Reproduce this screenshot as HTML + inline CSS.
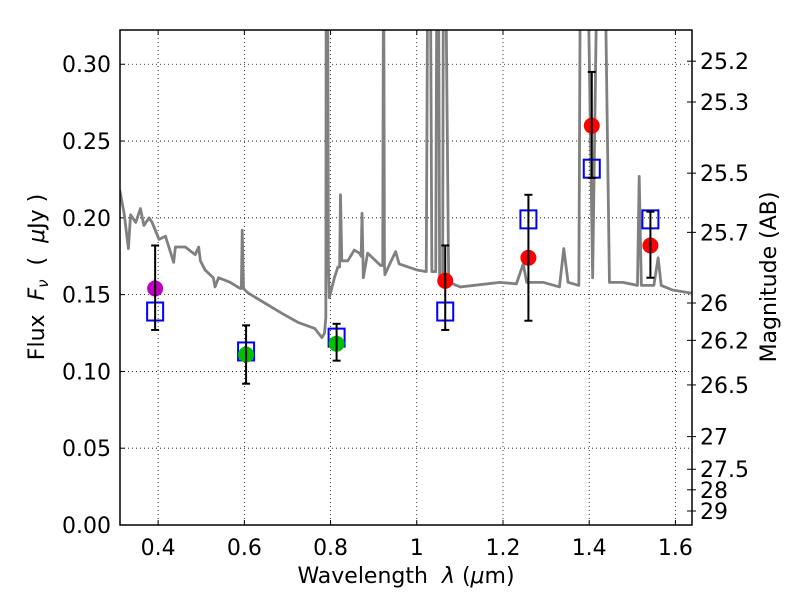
<!DOCTYPE html>
<html><head><meta charset="utf-8"><style>
body{margin:0;background:#fff}
svg{display:block;font-family:"DejaVu Sans","Liberation Sans",sans-serif}
</style></head><body>
<svg id="chart" width="800" height="600" viewBox="0 0 800 600"></svg>
<script>
const specWl=[0.311,0.321,0.331,0.336,0.348,0.359,0.367,0.379,0.386,0.402,0.417,0.436,0.440,0.463,0.486,0.494,0.498,0.509,0.528,0.532,0.540,0.567,0.590,0.593,0.595,0.598,0.609,0.686,0.724,0.763,0.780,0.786,0.789,0.790,0.793,0.795,0.797,0.809,0.817,0.821,0.823,0.826,0.828,0.840,0.855,0.867,0.871,0.873,0.875,0.876,0.886,0.916,0.921,0.923,0.925,0.926,0.939,0.951,0.959,1.001,1.022,1.026,1.031,1.035,1.044,1.047,1.050,1.053,1.060,1.062,1.066,1.074,1.101,1.193,1.231,1.247,1.255,1.293,1.331,1.341,1.351,1.376,1.380,1.395,1.408,1.420,1.435,1.447,1.478,1.512,1.516,1.521,1.550,1.560,1.567,1.593,1.637];
const specF=[0.218,0.203,0.180,0.202,0.197,0.206,0.195,0.200,0.197,0.186,0.188,0.171,0.181,0.181,0.176,0.181,0.172,0.166,0.161,0.155,0.161,0.158,0.154,0.154,0.192,0.154,0.151,0.138,0.132,0.128,0.122,0.125,0.135,0.40,0.40,0.17,0.148,0.161,0.168,0.168,0.215,0.172,0.172,0.172,0.179,0.177,0.175,0.203,0.175,0.161,0.177,0.169,0.169,0.40,0.169,0.163,0.171,0.178,0.170,0.166,0.165,0.40,0.40,0.165,0.165,0.40,0.40,0.160,0.160,0.40,0.40,0.158,0.155,0.158,0.157,0.170,0.158,0.158,0.155,0.180,0.158,0.156,0.40,0.40,0.161,0.40,0.40,0.158,0.158,0.156,0.227,0.156,0.156,0.174,0.156,0.153,0.151];
const obsWl=[0.393,0.604,0.814,1.066,1.259,1.406,1.542];
const obsF=[0.154,0.111,0.118,0.159,0.174,0.260,0.182];
const errLo=[0.127,0.092,0.107,0.127,0.133,0.226,0.161];
const errHi=[0.182,0.130,0.131,0.182,0.215,0.295,0.204];
const obsColor=['#bf00bf','#00c000','#00c000','#ff0000','#ff0000','#ff0000','#ff0000'];
const modelF=[0.139,0.113,0.122,0.139,0.199,0.232,0.199];
const xTicks=[0.4,0.6,0.8,1.0,1.2,1.4,1.6];
const xLabels=['0.4','0.6','0.8','1','1.2','1.4','1.6'];
const yTicks=[0,0.05,0.10,0.15,0.20,0.25,0.30];
const yLabels=['0.00','0.05','0.10','0.15','0.20','0.25','0.30'];
const magTicks=[25.2,25.3,25.5,25.7,26,26.2,26.5,27,27.5,28,29];
const magLabels=['25.2','25.3','25.5','25.7','26','26.2','26.5','27','27.5','28','29'];

const L=120,R=692,T=30,B=525,X0=0.3115,X1=1.6385,Y0=0,Y1=0.3223;
const sx=v=>L+(v-X0)/(X1-X0)*(R-L);
const sy=v=>B-(v-Y0)/(Y1-Y0)*(B-T);
const NS='http://www.w3.org/2000/svg';
const svg=document.getElementById('chart');
function mk(tag,attrs,parent){const e=document.createElementNS(NS,tag);for(const k in attrs)e.setAttribute(k,attrs[k]);(parent||svg).appendChild(e);return e;}
const defs=mk('defs',{});const cp=mk('clipPath',{id:'clip'},defs);mk('rect',{x:L,y:T,width:R-L,height:B-T},cp);

const grid=mk('g',{});


xTicks.forEach((t,i)=>{
  const x=sx(t);
  mk('line',{x1:x,x2:x,y1:T,y2:B,stroke:'#000','stroke-width':0.8,'stroke-dasharray':'1,3'},grid);
  mk('line',{x1:x,x2:x,y1:B,y2:B-5,stroke:'#000'},grid);
  mk('line',{x1:x,x2:x,y1:T,y2:T+5,stroke:'#000'},grid);
  const tx=mk('text',{x:x,y:B+30,'font-size':22,'text-anchor':'middle'});
  
  
  tx.textContent=xLabels[i];
});
yTicks.forEach((t,i)=>{
  const y=sy(t);
  mk('line',{x1:L,x2:R,y1:y,y2:y,stroke:'#000','stroke-width':0.8,'stroke-dasharray':'1,3'},grid);
  mk('line',{x1:L,x2:L+5,y1:y,y2:y,stroke:'#000'},grid);
  const tx=mk('text',{x:111,y:y+8,'font-size':22,'text-anchor':'end'});
  
  
  tx.textContent=yLabels[i];
});
magTicks.forEach((m,i)=>{
  const y=sy(Math.pow(10,(23.9-m)/2.5));
  mk('line',{x1:R-5,x2:R,y1:y,y2:y,stroke:'#000'},grid);
  mk('line',{x1:R,x2:R+4,y1:y,y2:y,stroke:'#000'},grid);
  const tx=mk('text',{x:700,y:y+8,'font-size':22});
  
  
  tx.textContent=magLabels[i];
});

const spec=mk('polyline',{points:specWl.map((w,i)=>sx(w)+','+sy(specF[i])).join(' '),fill:'none',stroke:'#808080','stroke-width':2.8,'stroke-linejoin':'round','clip-path':'url(#clip)'});



obsWl.forEach((w,i)=>{
  const x=sx(w);
  const sq=mk('rect',{x:x-8,y:sy(modelF[i])-9,width:16,height:18,fill:'none',stroke:'#0000ff','stroke-width':2});
  
  
  const c=mk('circle',{cx:x,cy:sy(obsF[i]),r:8,fill:obsColor[i]});
  
  
  const g=mk('g',{stroke:'#000','stroke-width':2});
  
  
  mk('line',{x1:x,x2:x,y1:sy(errLo[i]),y2:sy(errHi[i])},g);
  mk('line',{x1:x-4,x2:x+4,y1:sy(errLo[i]),y2:sy(errLo[i])},g);
  mk('line',{x1:x-4,x2:x+4,y1:sy(errHi[i]),y2:sy(errHi[i])},g);
});

const frame=mk('rect',{x:L,y:T,width:R-L,height:B-T,fill:'none',stroke:'#000','stroke-width':1.5});


</script>
<svg style="position:absolute;left:0;top:0" width="800" height="600">
<text x="406" y="583" font-size="22" text-anchor="middle" font-family="DejaVu Sans,sans-serif" xml:space="preserve">Wavelength  <tspan font-style="italic">λ</tspan> (<tspan font-style="italic">μ</tspan>m)</text>
<text transform="translate(44,277) rotate(-90)" font-size="22" text-anchor="middle" font-family="DejaVu Sans,sans-serif" xml:space="preserve">Flux  <tspan font-style="italic">F</tspan><tspan font-style="italic" font-size="15" dy="4">ν</tspan><tspan dy="-4">  (  </tspan><tspan font-style="italic">μ</tspan>Jy )</text>
<text transform="translate(776,277) rotate(-90)" font-size="22" text-anchor="middle" font-family="DejaVu Sans,sans-serif">Magnitude (AB)</text>
</svg>
</body></html>
